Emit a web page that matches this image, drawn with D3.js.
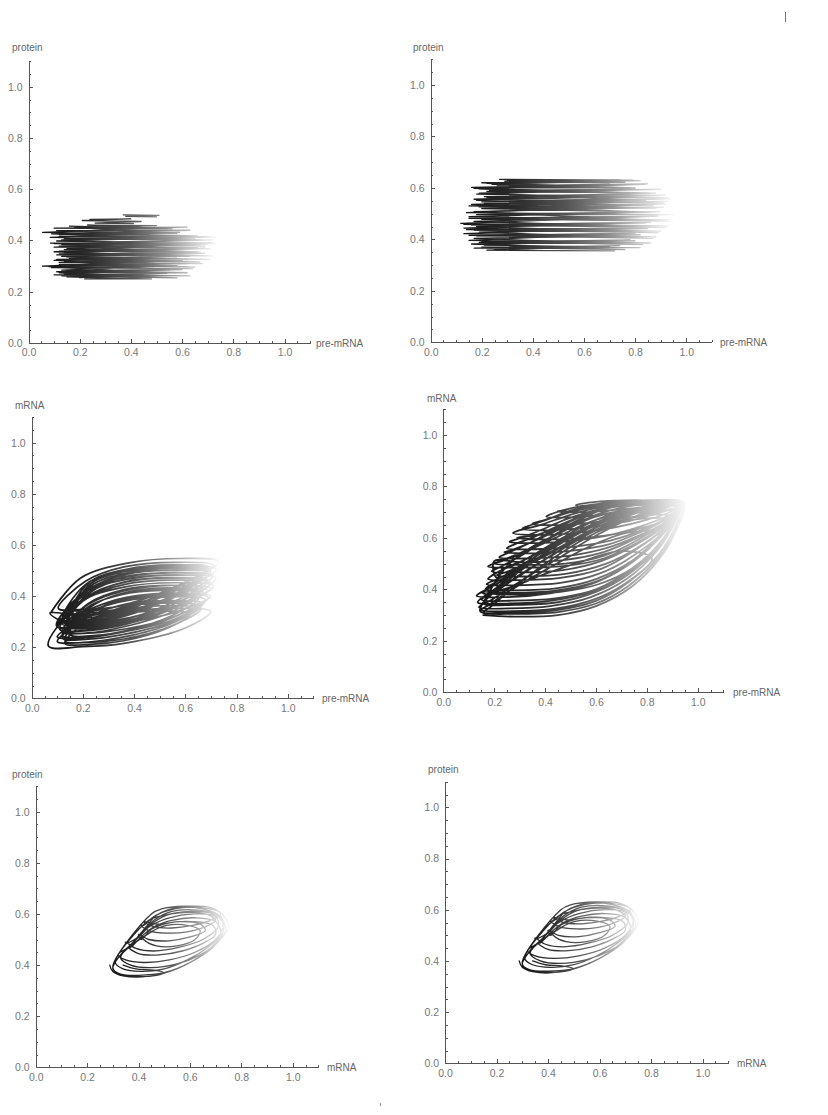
<!DOCTYPE html>
<html>
<head>
<meta charset="utf-8">
<script src="https://cdnjs.cloudflare.com/ajax/libs/d3/7.8.5/d3.min.js"></script>
<style>
  body { margin: 0; background: #fff; }
  .axis path, .axis line { stroke: #555; stroke-width: 1; shape-rendering: crispEdges; }
  .axis text { font-family: "Liberation Sans", Arial, sans-serif; font-size: 10.5px; fill: #777; }
  .axisText { font-family: "Liberation Sans", Arial, sans-serif; font-size: 10px; fill: #666; }
  .traj { fill: none; stroke-linejoin: round; stroke-linecap: round; }
</style>
</head>
<body>
<div class="chart"></div>
<script>
var svgWidth = 828;
var svgHeight = 1115;

// tick values shared by every panel
var majorTicks = [0, 0.2, 0.4, 0.6, 0.8, 1.0];
var minorTicks = [0.05, 0.1, 0.15, 0.25, 0.3, 0.35, 0.45, 0.5, 0.55, 0.65, 0.7, 0.75, 0.85, 0.9, 0.95, 1.05, 1.1];

// panel 1: pre-mRNA vs protein, turning points of the trajectory
var p1Top = [[0.37,0.500],[0.51,0.498],[0.38,0.494],[0.50,0.492]];
var p1Short = [[0.24,0.482],[0.40,0.484],[0.21,0.478],[0.44,0.474],[0.26,0.468],[0.41,0.466]];
var p1Down = [
  [0.16,0.456],[0.56,0.445],[0.10,0.448],[0.62,0.452],[0.055,0.432],[0.66,0.418],
  [0.12,0.424],[0.59,0.432],[0.085,0.412],[0.68,0.402],[0.14,0.406],[0.70,0.414],
  [0.11,0.398],[0.74,0.388],[0.086,0.390],[0.72,0.402],[0.13,0.384],[0.66,0.372],
  [0.10,0.374],[0.70,0.386],[0.15,0.368],[0.64,0.356],[0.12,0.358],[0.69,0.370],
  [0.14,0.352],[0.72,0.340],[0.11,0.344],[0.66,0.356],[0.13,0.338],[0.71,0.326],
  [0.16,0.330],[0.62,0.340],[0.10,0.322],[0.68,0.310],[0.12,0.314],[0.60,0.322],
  [0.055,0.300],[0.64,0.290],[0.09,0.294],[0.58,0.302],[0.13,0.284],[0.62,0.274],
  [0.11,0.278],[0.55,0.286],[0.14,0.270],[0.63,0.262],[0.10,0.266],[0.52,0.272],
  [0.15,0.258],[0.48,0.250],[0.22,0.250],[0.47,0.256]
];
var p1Up = [
  [0.20,0.255],[0.45,0.264],[0.13,0.262],[0.58,0.254],[0.12,0.274],[0.60,0.286],
  [0.15,0.282],[0.54,0.272],[0.08,0.298],[0.62,0.310],[0.12,0.306],[0.65,0.296],
  [0.14,0.318],[0.58,0.330],[0.11,0.326],[0.67,0.316],[0.15,0.336],[0.69,0.350],
  [0.12,0.348],[0.63,0.338],[0.10,0.356],[0.71,0.368],[0.14,0.364],[0.67,0.354],
  [0.12,0.378],[0.72,0.392],[0.10,0.388],[0.69,0.378],[0.13,0.402],[0.73,0.414],
  [0.12,0.416],[0.65,0.406],[0.09,0.426],[0.63,0.440],[0.11,0.438],[0.58,0.428],
  [0.18,0.450],[0.50,0.458],[0.23,0.460],[0.44,0.452]
];

// panel 2: pre-mRNA vs protein, second parameter set
var p2Down = [
  [0.27,0.633],[0.79,0.630],[0.30,0.628],[0.76,0.622],[0.20,0.620],[0.82,0.628],
  [0.24,0.614],[0.78,0.600],[0.16,0.602],[0.84,0.614],[0.19,0.596],[0.88,0.580],
  [0.22,0.586],[0.80,0.596],[0.18,0.576],[0.93,0.562],[0.21,0.566],[0.86,0.578],
  [0.17,0.556],[0.91,0.542],[0.20,0.546],[0.94,0.558],[0.16,0.536],[0.88,0.522],
  [0.19,0.526],[0.92,0.538],[0.14,0.504],[0.95,0.496],[0.18,0.496],[0.90,0.508],
  [0.15,0.488],[0.94,0.476],[0.20,0.478],[0.89,0.490],[0.118,0.462],[0.93,0.452],
  [0.16,0.456],[0.86,0.466],[0.13,0.444],[0.90,0.432],[0.17,0.436],[0.84,0.446],
  [0.13,0.422],[0.88,0.410],[0.18,0.414],[0.80,0.424],[0.15,0.396],[0.86,0.386],
  [0.19,0.388],[0.78,0.398],[0.21,0.378],[0.82,0.368],[0.17,0.366],[0.74,0.376],
  [0.22,0.358],[0.72,0.355]
];
var p2Up = [
  [0.25,0.360],[0.70,0.372],[0.20,0.370],[0.76,0.360],[0.16,0.382],[0.80,0.394],
  [0.20,0.392],[0.83,0.380],[0.17,0.404],[0.82,0.418],[0.15,0.416],[0.87,0.404],
  [0.19,0.428],[0.85,0.442],[0.14,0.438],[0.89,0.426],[0.18,0.450],[0.84,0.464],
  [0.13,0.458],[0.92,0.446],[0.17,0.470],[0.88,0.490],[0.15,0.482],[0.95,0.470],
  [0.17,0.508],[0.91,0.524],[0.20,0.520],[0.86,0.506],[0.15,0.530],[0.93,0.548],
  [0.21,0.540],[0.87,0.530],[0.18,0.552],[0.92,0.572],[0.22,0.562],[0.84,0.552],
  [0.19,0.580],[0.90,0.594],[0.23,0.590],[0.81,0.580],[0.17,0.598],[0.85,0.616],
  [0.26,0.608],[0.80,0.600],[0.22,0.618],[0.74,0.630],[0.29,0.626],[0.70,0.620]
];

// panel 3: pre-mRNA vs mRNA, points along the loops
var p3Loops = [
  [0.13,0.345],[0.22,0.341],[0.36,0.365],[0.56,0.436],[0.71,0.52],[0.56,0.532],[0.36,0.514],[0.21,0.458],
  [0.104,0.352],[0.20,0.348],[0.37,0.365],[0.56,0.42],[0.70,0.495],[0.55,0.507],[0.37,0.49],[0.23,0.44],
  [0.13,0.32],[0.23,0.316],[0.37,0.34],[0.56,0.405],[0.69,0.49],[0.54,0.50],[0.37,0.485],[0.23,0.43],
  [0.15,0.33],[0.25,0.326],[0.38,0.345],[0.55,0.395],[0.68,0.46],[0.53,0.47],[0.37,0.455],[0.24,0.41],
  [0.14,0.31],[0.24,0.306],[0.37,0.33],[0.54,0.395],[0.66,0.48],[0.52,0.49],[0.36,0.475],[0.23,0.42],
  [0.11,0.31],[0.21,0.306],[0.36,0.33],[0.57,0.41],[0.72,0.505],[0.57,0.517],[0.37,0.50],[0.21,0.445],
  [0.12,0.30],[0.22,0.296],[0.36,0.32],[0.56,0.40],[0.70,0.50],[0.55,0.512],[0.36,0.495],[0.22,0.44],
  [0.16,0.30],[0.26,0.296],[0.38,0.315],[0.56,0.36],[0.69,0.42],[0.54,0.432],[0.37,0.415],[0.25,0.37],
  [0.14,0.28],[0.24,0.276],[0.37,0.295],[0.57,0.34],[0.70,0.40],[0.55,0.412],[0.37,0.395],[0.23,0.35],
  [0.12,0.29],[0.22,0.286],[0.36,0.31],[0.56,0.37],[0.70,0.45],[0.55,0.462],[0.36,0.445],[0.21,0.39],
  [0.10,0.28],[0.20,0.276],[0.36,0.30],[0.57,0.375],[0.72,0.47],[0.57,0.482],[0.37,0.465],[0.20,0.41],
  [0.097,0.283],[0.20,0.279],[0.36,0.30],[0.57,0.36],[0.71,0.44],[0.56,0.452],[0.36,0.435],[0.20,0.38],
  [0.13,0.27],[0.23,0.266],[0.37,0.29],[0.55,0.35],[0.67,0.43],[0.52,0.442],[0.36,0.425],[0.22,0.37],
  [0.12,0.26],[0.22,0.256],[0.36,0.28],[0.54,0.335],[0.66,0.41],[0.51,0.422],[0.35,0.405],[0.21,0.35],
  [0.15,0.25],[0.25,0.246],[0.37,0.265],[0.54,0.32],[0.65,0.39],[0.50,0.40],[0.35,0.385],[0.23,0.335],
  [0.14,0.26],[0.24,0.256],[0.37,0.272],[0.53,0.31],[0.64,0.365],[0.49,0.377],[0.34,0.36],[0.22,0.32],
  [0.10,0.24],[0.20,0.236],[0.36,0.26],[0.56,0.31],[0.68,0.385],[0.53,0.397],[0.36,0.38],[0.20,0.325],
  [0.12,0.235],[0.22,0.231],[0.36,0.25],[0.55,0.30],[0.67,0.37],[0.52,0.382],[0.35,0.365],[0.21,0.31],
  [0.10,0.222],[0.20,0.218],[0.36,0.232],[0.55,0.285],[0.66,0.35],[0.51,0.362],[0.35,0.345],[0.20,0.29],
  [0.13,0.215],[0.23,0.211],[0.36,0.225],[0.52,0.27],[0.62,0.33],[0.48,0.342],[0.34,0.325],[0.21,0.275],
  [0.12,0.33],[0.22,0.326],[0.37,0.35],[0.56,0.42],[0.70,0.51],[0.55,0.522],[0.37,0.505],[0.22,0.45],
  [0.14,0.29],[0.24,0.286],[0.37,0.31],[0.56,0.38],[0.69,0.46],[0.54,0.472],[0.36,0.455],[0.22,0.40],
  [0.11,0.27],[0.21,0.266],[0.36,0.29],[0.56,0.355],[0.70,0.43],[0.55,0.442],[0.36,0.42],[0.21,0.36],
  [0.15,0.28],[0.25,0.276],[0.38,0.30],[0.55,0.35],[0.67,0.415],[0.52,0.427],[0.36,0.41],[0.23,0.36],
  [0.12,0.245],[0.22,0.241],[0.36,0.26],[0.55,0.315],[0.69,0.395],[0.54,0.407],[0.36,0.39],[0.21,0.335],
  [0.13,0.225],[0.23,0.221],[0.36,0.24],[0.54,0.29],[0.66,0.36],[0.51,0.372],[0.35,0.355],[0.21,0.30],
  [0.10,0.30],[0.20,0.296],[0.36,0.322],[0.57,0.40],[0.71,0.48],[0.56,0.492],[0.37,0.475],[0.21,0.42],
  [0.14,0.32],[0.24,0.316],[0.37,0.338],[0.55,0.40],[0.67,0.47],[0.52,0.482],[0.36,0.465],[0.23,0.415],
  [0.065,0.205],[0.20,0.202],[0.36,0.215],[0.60,0.275],[0.70,0.34],[0.55,0.352],[0.36,0.335],[0.19,0.275],
  [0.071,0.334],[0.17,0.330],[0.36,0.354],[0.57,0.434],[0.73,0.535],[0.58,0.547],[0.38,0.530],[0.19,0.470],[0.075,0.336]
];

// panel 4: pre-mRNA vs mRNA, second parameter set
var p4Loops = [
  [0.157,0.300],[0.28,0.294],[0.45,0.300],[0.60,0.335],[0.74,0.41],[0.85,0.52],[0.92,0.64],[0.945,0.72],
  [0.80,0.70],[0.62,0.62],[0.45,0.52],[0.30,0.43],[0.19,0.36],
  [0.14,0.33],[0.26,0.326],[0.42,0.335],[0.58,0.37],[0.72,0.44],[0.84,0.55],[0.91,0.66],[0.935,0.725],
  [0.78,0.71],[0.60,0.65],[0.43,0.56],[0.28,0.46],[0.17,0.40],
  [0.131,0.375],[0.25,0.37],[0.42,0.385],[0.58,0.42],[0.72,0.49],[0.83,0.58],[0.90,0.67],[0.94,0.73],
  [0.78,0.715],[0.60,0.66],[0.44,0.57],[0.30,0.47],[0.20,0.39],
  [0.16,0.345],[0.28,0.34],[0.45,0.35],[0.60,0.39],[0.73,0.46],[0.84,0.56],[0.90,0.68],
  [0.75,0.68],[0.58,0.62],[0.42,0.53],[0.28,0.44],[0.19,0.385],
  [0.15,0.36],[0.27,0.356],[0.44,0.365],[0.60,0.40],[0.74,0.48],[0.86,0.59],[0.92,0.70],
  [0.77,0.70],[0.59,0.645],[0.43,0.56],[0.29,0.47],[0.20,0.425],
  [0.165,0.40],[0.28,0.396],[0.45,0.405],[0.60,0.44],[0.74,0.51],[0.85,0.61],[0.93,0.72],
  [0.78,0.72],[0.60,0.67],[0.45,0.59],[0.31,0.51],[0.21,0.465],
  [0.176,0.44],[0.29,0.436],[0.46,0.445],[0.62,0.48],[0.75,0.55],[0.86,0.63],[0.94,0.735],
  [0.78,0.74],[0.60,0.70],[0.45,0.62],[0.32,0.54],[0.23,0.49],
  [0.19,0.47],[0.30,0.466],[0.47,0.475],[0.62,0.51],[0.75,0.57],[0.86,0.64],[0.93,0.72],
  [0.77,0.715],[0.59,0.68],[0.44,0.61],[0.31,0.545],[0.21,0.505],
  [0.176,0.489],[0.30,0.485],[0.47,0.49],[0.63,0.52],[0.76,0.58],[0.87,0.65],[0.95,0.735],
  [0.79,0.745],[0.62,0.715],[0.47,0.65],[0.34,0.58],[0.25,0.54],
  [0.22,0.525],[0.33,0.52],[0.49,0.53],[0.64,0.56],[0.77,0.61],[0.87,0.66],[0.93,0.725],
  [0.78,0.73],[0.62,0.71],[0.48,0.66],[0.36,0.605],[0.28,0.575],
  [0.25,0.56],[0.36,0.556],[0.51,0.565],[0.66,0.59],[0.78,0.63],[0.88,0.68],[0.94,0.73],
  [0.80,0.74],[0.64,0.725],[0.50,0.69],[0.38,0.65],[0.30,0.63],
  [0.274,0.619],[0.38,0.612],[0.52,0.62],[0.67,0.64],[0.80,0.67],[0.89,0.70],[0.945,0.735],
  [0.80,0.745],[0.64,0.735],[0.50,0.705],[0.39,0.665],[0.33,0.645],
  [0.31,0.635],[0.42,0.63],[0.56,0.64],[0.70,0.66],[0.82,0.69],[0.93,0.725],
  [0.80,0.74],[0.64,0.735],[0.50,0.715],[0.43,0.695],
  [0.405,0.683],[0.50,0.68],[0.62,0.69],[0.75,0.705],[0.86,0.72],[0.94,0.735],
  [0.82,0.745],[0.68,0.745],[0.57,0.737],
  [0.52,0.727],[0.62,0.722],[0.76,0.727],[0.88,0.735],[0.95,0.738],
  [0.80,0.72],[0.62,0.69],[0.47,0.645],[0.36,0.61],
  [0.29,0.60],[0.40,0.594],[0.55,0.60],[0.70,0.62],[0.82,0.65],[0.90,0.68],[0.94,0.72],
  [0.78,0.71],[0.60,0.67],[0.44,0.60],[0.31,0.54],[0.23,0.51],
  [0.20,0.50],[0.32,0.495],[0.48,0.50],[0.63,0.53],[0.76,0.59],[0.88,0.67],
  [0.74,0.67],[0.57,0.62],[0.42,0.54],[0.28,0.47],[0.20,0.435],
  [0.17,0.42],[0.29,0.416],[0.46,0.425],[0.61,0.46],[0.73,0.52],[0.85,0.62],
  [0.72,0.62],[0.56,0.56],[0.41,0.48],[0.27,0.40],[0.18,0.34],
  [0.15,0.32],[0.27,0.315],[0.44,0.325],[0.59,0.36],[0.71,0.42],[0.82,0.52],
  [0.70,0.55],[0.55,0.51],[0.40,0.46],[0.27,0.41],[0.20,0.39],
  [0.18,0.385],[0.30,0.38],[0.46,0.39],[0.61,0.42],[0.74,0.48],[0.85,0.58],[0.92,0.70],
  [0.78,0.69],[0.60,0.62],[0.43,0.52],[0.28,0.41],[0.19,0.335],
  [0.16,0.31],[0.28,0.305],[0.45,0.312],[0.60,0.345],[0.73,0.415],[0.85,0.53],[0.91,0.63],[0.935,0.70],
  [0.78,0.70],[0.60,0.64],[0.45,0.56],[0.32,0.495],[0.24,0.465],
  [0.21,0.455],[0.32,0.45],[0.48,0.46],[0.64,0.50],[0.76,0.56],[0.87,0.64],[0.94,0.73],
  [0.78,0.73],[0.60,0.69],[0.46,0.62],[0.34,0.56],[0.24,0.48],[0.17,0.37],
  [0.145,0.315],[0.27,0.31],[0.44,0.318],[0.60,0.355],[0.73,0.43],[0.85,0.54],[0.92,0.66],[0.94,0.72],
  [0.79,0.705],[0.61,0.635],[0.44,0.54],[0.29,0.45],[0.18,0.38],
  [0.15,0.39],[0.27,0.386],[0.44,0.395],[0.60,0.43],[0.73,0.50],[0.85,0.60],[0.93,0.715],
  [0.77,0.71],[0.59,0.655],[0.44,0.575],[0.30,0.49],[0.21,0.445],
  [0.20,0.51],[0.31,0.505],[0.48,0.515],[0.63,0.545],[0.76,0.60],[0.87,0.66],[0.94,0.73],
  [0.78,0.735],[0.61,0.705],[0.47,0.64],[0.35,0.585],[0.26,0.55],
  [0.24,0.545],[0.35,0.54],[0.50,0.55],[0.65,0.575],[0.77,0.62],[0.87,0.67],[0.93,0.725],
  [0.79,0.735],[0.63,0.715],[0.49,0.675],[0.37,0.625],[0.29,0.595],
  [0.26,0.585],[0.37,0.58],[0.52,0.59],[0.67,0.615],[0.79,0.65],[0.89,0.69],[0.945,0.73],
  [0.80,0.745],[0.64,0.73],[0.50,0.70],[0.40,0.67],
  [0.35,0.655],[0.45,0.65],[0.59,0.66],[0.73,0.68],[0.85,0.70],[0.94,0.73],
  [0.80,0.742],[0.66,0.74],[0.55,0.72],[0.47,0.70],
  [0.45,0.705],[0.55,0.70],[0.68,0.71],[0.80,0.72],[0.92,0.732],
  [0.78,0.72],[0.60,0.67],[0.44,0.58],[0.30,0.48],[0.20,0.40],
  [0.135,0.35],[0.25,0.345],[0.42,0.355],[0.58,0.39],[0.72,0.46],[0.84,0.565],[0.91,0.67],[0.94,0.725],
  [0.79,0.72],[0.61,0.66],[0.45,0.585],[0.32,0.515],[0.23,0.48]
];

// panels 5 and 6: mRNA vs protein (the two pictures are the same)
var p5Loops = [
  [0.288,0.40],[0.30,0.375],[0.34,0.358],[0.44,0.356],[0.56,0.39],[0.66,0.45],[0.73,0.53],[0.72,0.59],
  [0.65,0.62],[0.55,0.625],[0.47,0.595],[0.43,0.55],[0.38,0.49],[0.33,0.44],
  [0.30,0.385],[0.33,0.365],[0.40,0.36],[0.50,0.37],[0.60,0.41],[0.69,0.47],[0.74,0.54],[0.71,0.595],
  [0.63,0.615],[0.53,0.61],[0.46,0.575],[0.41,0.52],[0.36,0.47],
  [0.32,0.44],[0.35,0.42],[0.42,0.41],[0.52,0.42],[0.62,0.45],[0.70,0.50],[0.73,0.56],[0.69,0.60],
  [0.60,0.61],[0.51,0.595],[0.45,0.56],[0.40,0.51],[0.35,0.485],
  [0.35,0.49],[0.39,0.465],[0.46,0.455],[0.56,0.47],[0.65,0.50],[0.71,0.55],[0.70,0.59],
  [0.62,0.60],[0.52,0.585],[0.45,0.555],[0.41,0.52],
  [0.42,0.50],[0.47,0.475],[0.55,0.475],[0.62,0.50],[0.64,0.535],[0.59,0.555],[0.51,0.555],[0.45,0.53],
  [0.33,0.43],[0.37,0.40],[0.45,0.39],[0.55,0.405],[0.64,0.44],[0.71,0.49],[0.75,0.55],[0.72,0.605],
  [0.64,0.625],[0.54,0.62],[0.46,0.59],[0.42,0.555],
  [0.41,0.555],[0.44,0.535],[0.51,0.525],[0.59,0.53],[0.66,0.55],[0.70,0.575],[0.66,0.60],
  [0.57,0.605],[0.48,0.59],[0.44,0.575],
  [0.31,0.41],[0.34,0.385],[0.41,0.375],[0.50,0.385],[0.59,0.42],[0.67,0.47],[0.72,0.52],[0.70,0.57],
  [0.62,0.585],[0.53,0.575],[0.46,0.55],[0.41,0.51],[0.37,0.47],
  [0.36,0.47],[0.40,0.445],[0.48,0.44],[0.57,0.455],[0.65,0.485],[0.70,0.52],[0.69,0.555],
  [0.61,0.57],[0.52,0.565],[0.45,0.54],[0.41,0.50],
  [0.40,0.52],[0.44,0.50],[0.52,0.495],[0.60,0.51],[0.66,0.535],[0.64,0.56],[0.56,0.57],[0.48,0.56],
  [0.42,0.57],[0.46,0.55],[0.53,0.545],[0.61,0.555],[0.68,0.575],[0.72,0.60],[0.68,0.625],
  [0.58,0.63],[0.49,0.62],[0.45,0.60],
  [0.30,0.39],[0.33,0.362],[0.40,0.355],[0.47,0.36],[0.50,0.37],[0.46,0.38],[0.39,0.385],[0.34,0.40]
];

// layout of the six panels (pixel positions of the axes and axis names)
var panels = [
  {traj: [p1Top, p1Short, p1Down, p1Up], left: 28.5, bottom: 343, ux: 256, uy: 256.3,
   xName: "pre-mRNA", yName: "protein", xNamePos: [316, 346.5], yNamePos: [12, 51], curve: "linear", width: 1.3},
  {traj: [p2Down, p2Up], left: 430.7, bottom: 342.3, ux: 255.5, uy: 257.3,
   xName: "pre-mRNA", yName: "protein", xNamePos: [720, 346], yNamePos: [413, 51], curve: "linear", width: 1.3},
  {traj: [p3Loops], left: 31.7, bottom: 698.3, ux: 256, uy: 255.6,
   xName: "pre-mRNA", yName: "mRNA", xNamePos: [322, 701.5], yNamePos: [15, 408.5], curve: "smooth", width: 1.7},
  {traj: [p4Loops], left: 443.3, bottom: 692.3, ux: 254.5, uy: 257.3,
   xName: "pre-mRNA", yName: "mRNA", xNamePos: [733, 695.5], yNamePos: [427, 401.5], curve: "smooth", width: 1.8},
  {traj: [p5Loops], left: 35.7, bottom: 1067.3, ux: 257, uy: 255.6,
   xName: "mRNA", yName: "protein", xNamePos: [327, 1070.5], yNamePos: [12, 778], curve: "smooth", width: 1.3},
  {traj: [p5Loops], left: 445, bottom: 1063.3, ux: 257.6, uy: 256,
   xName: "mRNA", yName: "protein", xNamePos: [737, 1066.5], yNamePos: [428, 773], curve: "smooth", width: 1.3}
];

var svg = d3.select(".chart")
  .append("svg")
  .attr("width", svgWidth)
  .attr("height", svgHeight);

var defs = svg.append("defs");

panels.forEach(function(p, i) {
  var chartGroup = svg.append("g");

  var xLinearScale = d3.scaleLinear()
    .domain([0, 1.1])
    .range([p.left, p.left + 1.1 * p.ux]);

  var yLinearScale = d3.scaleLinear()
    .domain([0, 1.1])
    .range([p.bottom, p.bottom - 1.1 * p.uy]);

  // colour runs dark -> light along the horizontal coordinate
  var ext = d3.extent(d3.merge(p.traj), d => d[0]);
  var grad = defs.append("linearGradient")
    .attr("id", "grad" + i)
    .attr("gradientUnits", "userSpaceOnUse")
    .attr("x1", xLinearScale(ext[0]))
    .attr("x2", xLinearScale(ext[1]))
    .attr("y1", 0)
    .attr("y2", 0);
  [[0, "#151515"], [0.25, "#2a2a2a"], [0.5, "#555"], [0.7, "#8f8f8f"], [0.85, "#c8c8c8"], [1, "#f8f8f8"]]
    .forEach(function(s) {
      grad.append("stop").attr("offset", s[0]).attr("stop-color", s[1]);
    });

  var line = d3.line()
    .x(d => xLinearScale(d[0]))
    .y(d => yLinearScale(d[1]))
    .curve(p.curve === "linear" ? d3.curveLinear : d3.curveCatmullRom.alpha(0.5));

  chartGroup.selectAll("path.traj")
    .data(p.traj)
    .enter()
    .append("path")
    .attr("class", "traj")
    .attr("d", line)
    .attr("stroke", "url(#grad" + i + ")")
    .attr("stroke-width", p.width);

  // axes: major ticks with labels, minor ticks without
  chartGroup.append("g")
    .attr("class", "axis")
    .attr("transform", `translate(0, ${p.bottom})`)
    .call(d3.axisBottom(xLinearScale).tickValues(majorTicks).tickSize(-4).tickSizeOuter(0)
      .tickPadding(6).tickFormat(d3.format(".1f")));
  chartGroup.append("g")
    .attr("class", "axis")
    .attr("transform", `translate(0, ${p.bottom})`)
    .call(d3.axisBottom(xLinearScale).tickValues(minorTicks).tickSize(-2.5).tickSizeOuter(0).tickFormat(""))
    .select(".domain").remove();

  chartGroup.append("g")
    .attr("class", "axis")
    .attr("transform", `translate(${p.left}, 0)`)
    .call(d3.axisLeft(yLinearScale).tickValues(majorTicks).tickSize(-4).tickSizeOuter(0)
      .tickPadding(6).tickFormat(d3.format(".1f")));
  chartGroup.append("g")
    .attr("class", "axis")
    .attr("transform", `translate(${p.left}, 0)`)
    .call(d3.axisLeft(yLinearScale).tickValues(minorTicks).tickSize(-2.5).tickSizeOuter(0).tickFormat(""))
    .select(".domain").remove();

  // axis names
  chartGroup.append("text")
    .attr("class", "axisText")
    .attr("x", p.yNamePos[0])
    .attr("y", p.yNamePos[1])
    .text(p.yName);

  chartGroup.append("text")
    .attr("class", "axisText")
    .attr("x", p.xNamePos[0])
    .attr("y", p.xNamePos[1])
    .text(p.xName);
});

// small stray marks in the scan
svg.append("line").attr("x1", 785.5).attr("x2", 785.5).attr("y1", 12).attr("y2", 22)
  .attr("stroke", "#777").attr("stroke-width", 1);
svg.append("line").attr("x1", 380.5).attr("x2", 380.5).attr("y1", 1103).attr("y2", 1106)
  .attr("stroke", "#999").attr("stroke-width", 1);
</script>
</body>
</html>
